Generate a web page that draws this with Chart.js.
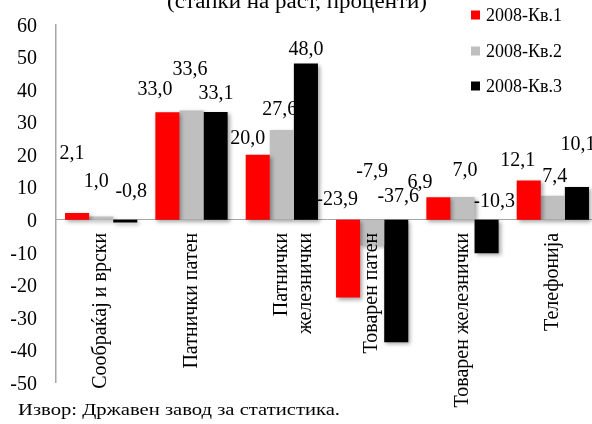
<!DOCTYPE html>
<html><head><meta charset="utf-8">
<script src="https://cdn.jsdelivr.net/npm/chart.js@4.4.0/dist/chart.umd.min.js"></script>
<style>html,body{margin:0;padding:0;background:#fff;overflow:hidden;width:592px;height:424px}
#wrap{position:relative;width:600px;height:424px}</style></head>
<body><div id="wrap"><canvas id="c" width="600" height="424"></canvas></div>
<script>
const categories = ['Сообраќај и врски', 'Патнички патен', ['Патнички', 'железнички'], 'Товарен патен', 'Товарен железнички', 'Телефонија'];
const seriesNames = ['2008-Кв.1', '2008-Кв.2', '2008-Кв.3'];
const q1 = [2.1, 33.0, 20.0, -23.9, 6.9, 12.1];
const q2 = [1.0, 33.6, 27.6, -7.9, 7.0, 7.4];
const q3 = [-0.8, 33.1, 48.0, -37.6, -10.3, 10.1];
const yMin = -50, yMax = 60, yStep = 10;
const titleText = '(стапки на раст, проценти)';
const sourceText = 'Извор: Државен завод за статистика.';

const colors = ['#FF0000', '#BFBFBF', '#000000'];
const FONT = "'Liberation Serif', 'Times New Roman', serif";
// label nudges (px) per series, per category, relative to bar end
const labelNudge = [
  [[-5,-59],[-12.5,-23],[-10,-15.5],[-11,-20],[-18.5,-15],[-11,-20]],
  [[-5,-35],[-1.5,-41],[-2,-20],[0,-48],[2.5,-26],[2,-19]],
  [[6,-28],[0.5,-18],[0,-13.5],[2,-23],[7.5,-18],[1,-42]]
];
const fmt = v => v.toFixed(1).replace('.', ',');

function stretchText(ctx, text, x, y, width) {
  const w = ctx.measureText(text).width;
  ctx.save();
  ctx.translate(x, y);
  ctx.scale(width / w, 1);
  ctx.fillText(text, 0, 0);
  ctx.restore();
}
function noPad(s) { s.paddingTop = 0; s.paddingBottom = 0; s.paddingLeft = 0; s.paddingRight = 0; }

const valueLabels = {
  id: 'valueLabels',
  beforeDatasetsDraw(chart) {
    const ctx = chart.ctx, y = chart.scales.y;
    ctx.save();
    ctx.font = '20px ' + FONT;
    ctx.fillStyle = '#000';
    ctx.textAlign = 'center';
    ctx.textBaseline = 'middle';
    chart.data.datasets.forEach((ds, s) => {
      const meta = chart.getDatasetMeta(s);
      meta.data.forEach((bar, i) => {
        const v = ds.data[i];
        const base = y.getPixelForValue(Math.max(v, 0));
        const n = labelNudge[s][i];
        ctx.fillText(fmt(v), bar.x + n[0], base + n[1]);
      });
    });
    ctx.restore();
    ctx.save();
    ctx.shadowColor = 'rgba(0,0,0,0.35)';
    ctx.shadowBlur = 4;
    ctx.shadowOffsetX = 2;
    ctx.shadowOffsetY = 2;
  },
  afterDatasetsDraw(chart) {
    chart.ctx.restore();
  },
  afterDraw(chart) {
    const ctx = chart.ctx;
    ctx.save();
    ctx.fillStyle = '#000';
    ctx.font = '20px ' + FONT;
    ctx.textAlign = 'center';
    ctx.textBaseline = 'alphabetic';
    stretchText(ctx, titleText, 297, 8, 260);
    ctx.font = '18px ' + FONT;
    ctx.textAlign = 'left';
    ctx.textBaseline = 'middle';
    const ys = [15, 51, 86];
    chart.data.datasets.forEach((ds, s) => {
      ctx.fillStyle = ds.backgroundColor;
      ctx.fillRect(471, ys[s] - 4.5, 9, 9);
      ctx.fillStyle = '#000';
      ctx.fillText(ds.label, 486, ys[s] + 1);
    });
    ctx.font = '17px ' + FONT;
    stretchText(ctx, sourceText, 18, 411, 322);
    ctx.restore();
  }
};

new Chart(document.getElementById('c'), {
  type: 'bar',
  data: {
    labels: categories,
    datasets: [q1, q2, q3].map((d, s) => ({
      label: seriesNames[s], data: d, backgroundColor: colors[s],
      categoryPercentage: 0.8, barPercentage: 1.0, borderWidth: 0
    }))
  },
  options: {
    responsive: false, animation: false, devicePixelRatio: 1,
    layout: { padding: { top: 24.5, bottom: 41.5, left: 0, right: 2 } },
    plugins: { legend: { display: false }, tooltip: { enabled: false }, title: { display: false } },
    scales: {
      x: {
        position: { y: 0 },
        grid: { display: false, drawTicks: false },
        border: { color: '#A6A6A6', width: 1 },
        ticks: { z: 1, minRotation: 90, maxRotation: 90, autoSkip: false, padding: 13, color: '#000', font: { family: FONT, size: 20 } },
        afterFit: noPad
      },
      y: {
        min: yMin, max: yMax,
        grid: { display: false, drawTicks: false },
        border: { color: '#A6A6A6', width: 1.5 },
        ticks: { stepSize: yStep, padding: 19, labelOffset: 2, color: '#000', font: { family: FONT, size: 20 } },
        afterFit(s) { s.width = 56; noPad(s); }
      }
    }
  },
  plugins: [valueLabels]
});
</script></body></html>
